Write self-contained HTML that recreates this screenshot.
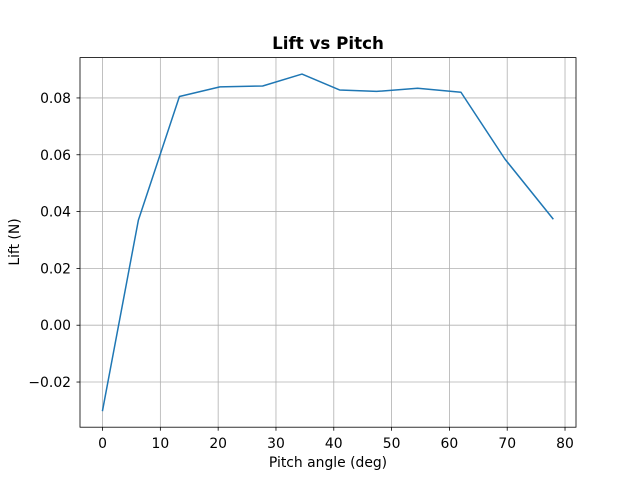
<!DOCTYPE html>
<html><head><meta charset="utf-8"><style>
body{margin:0;background:#fff}
svg{display:block;font-family:"DejaVu Sans","Liberation Sans",sans-serif}
</style></head><body>
<svg id="chart" width="640" height="480"></svg>
<script>
const pitchAngles = [0, 6.2, 13.3, 20.3, 27.7, 34.5, 41.0, 47.4, 54.5, 62.0, 69.6, 77.9];
const liftValues = [-0.030, 0.037, 0.0805, 0.0839, 0.0842, 0.0884, 0.0828, 0.0823, 0.0834, 0.0820, 0.0585, 0.0375];
const xTicks = [0, 10, 20, 30, 40, 50, 60, 70, 80];
const yTicks = [-0.02, 0.00, 0.02, 0.04, 0.06, 0.08];
const yTickLabels = ["\u22120.02", "0.00", "0.02", "0.04", "0.06", "0.08"];

const L=80,R=576,T=57.6,B=427.2;
const xmin=-3.9,xmax=81.9,ymin=-0.0359,ymax=0.0942;
const xs=v=>L+(v-xmin)/(xmax-xmin)*(R-L);
const ys=v=>B-(v-ymin)/(ymax-ymin)*(B-T);
const svg=document.getElementById('chart');
const NS='http://www.w3.org/2000/svg';
function mk(tag,attrs,parent){const e=document.createElementNS(NS,tag);for(const k in attrs)e.setAttribute(k,attrs[k]);(parent||svg).appendChild(e);return e;}

xTicks.forEach((t,i)=>{
  const x=xs(t);
  const g=mk('line',{x1:x,x2:x,y1:T,y2:B,stroke:'#b0b0b0','stroke-width':0.8});
  
  
  const tk=mk('line',{x1:x,x2:x,y1:B,y2:B+3.5,stroke:'#000','stroke-width':0.8});
  
  
  const tx=mk('text',{x:x,y:B+21,'font-size':13.9,'text-anchor':'middle'});
  tx.textContent=t;
  
  
});
yTicks.forEach((t,i)=>{
  const y=ys(t);
  const g=mk('line',{x1:L,x2:R,y1:y,y2:y,stroke:'#b0b0b0','stroke-width':0.8});
  
  
  const tk=mk('line',{x1:L-3.5,x2:L,y1:y,y2:y,stroke:'#000','stroke-width':0.8});
  
  
  const tx=mk('text',{x:L-9,y:y+5,'font-size':13.9,'text-anchor':'end'});
  tx.textContent=yTickLabels[i];
  
  
});
const line=mk('polyline',{points:pitchAngles.map((v,i)=>xs(v)+','+ys(liftValues[i])).join(' '),fill:'none',stroke:'#1f77b4','stroke-width':1.5,'stroke-linejoin':'round','stroke-linecap':'square'});


const fr=mk('rect',{x:L,y:T,width:R-L,height:B-T,fill:'none',stroke:'#000','stroke-width':0.8});


</script>
<svg style="position:absolute;left:0;top:0" width="640" height="480">
<text x="328" y="49" font-size="16.7" font-weight="bold" text-anchor="middle" font-family="DejaVu Sans, Liberation Sans, sans-serif">Lift vs Pitch</text>
<text x="328" y="467" font-size="13.9" text-anchor="middle" font-family="DejaVu Sans, Liberation Sans, sans-serif">Pitch angle (deg)</text>
<text x="19" y="242" font-size="13.9" text-anchor="middle" transform="rotate(-90 19 242)" font-family="DejaVu Sans, Liberation Sans, sans-serif">Lift (N)</text>
</svg>
</body></html>
